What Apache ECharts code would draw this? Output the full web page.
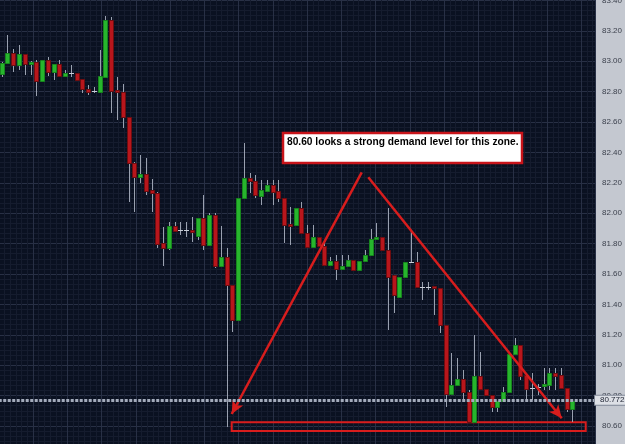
<!DOCTYPE html>
<html>
<head>
<meta charset="utf-8">
<script src="https://cdn.jsdelivr.net/npm/echarts@6/dist/echarts.min.js"></script>
<style>
    html, body { margin: 0; padding: 0; background: #0a1121; }
    #chart { width: 625px; height: 444px; }
</style>
</head>
<body>
<div id="chart"></div>
<script>
// candle values (index 0..99)
var opens = [82.916, 82.988, 83.054, 82.975, 83.047, 82.982, 82.995, 82.870, 83.008, 82.929,
    82.982, 82.903, 82.922, 82.922, 82.883, 82.817, 82.804, 82.797, 82.896, 83.271,
    82.811, 82.797, 82.633, 82.330, 82.238, 82.258, 82.153, 82.133, 81.804, 81.771,
    81.916, 81.889, 81.889, 81.889, 81.850, 81.968, 81.791, 81.988, 81.653, 81.712,
    81.528, 81.297, 82.100, 82.232, 82.212, 82.113, 82.146, 82.186, 82.146, 82.100,
    81.929, 81.922, 82.034, 81.870, 81.778, 81.843, 81.784, 81.659, 81.686, 81.633,
    81.653, 81.692, 81.626, 81.686, 81.725, 81.830, 81.843, 81.758, 81.593, 81.449,
    81.580, 81.679, 81.679, 81.514, 81.514, 81.521, 81.508, 81.264, 80.811, 80.870,
    80.909, 80.824, 80.626, 80.929, 80.843, 80.804, 80.725, 80.764, 80.824, 81.074,
    81.133, 80.936, 80.850, 80.857, 80.863, 80.870, 80.949, 80.936, 80.850, 80.712];
var closes = [82.988, 83.054, 82.975, 83.047, 82.982, 82.995, 82.870, 83.008, 82.929, 82.982,
    82.903, 82.922, 82.922, 82.876, 82.817, 82.797, 82.804, 82.903, 83.271, 82.804,
    82.797, 82.633, 82.330, 82.238, 82.258, 82.146, 82.133, 81.797, 81.771, 81.916,
    81.883, 81.889, 81.889, 81.876, 81.968, 81.791, 81.988, 81.653, 81.712, 81.528,
    81.297, 82.100, 82.232, 82.212, 82.120, 82.153, 82.186, 82.139, 82.100, 81.922,
    81.916, 82.034, 81.870, 81.778, 81.843, 81.784, 81.659, 81.686, 81.633, 81.653,
    81.692, 81.626, 81.686, 81.725, 81.830, 81.843, 81.758, 81.580, 81.462, 81.580,
    81.679, 81.672, 81.514, 81.514, 81.514, 81.508, 81.264, 80.811, 80.870, 80.909,
    80.824, 80.626, 80.929, 80.843, 80.804, 80.725, 80.764, 80.824, 81.074, 81.133,
    80.929, 80.843, 80.850, 80.857, 80.876, 80.949, 80.929, 80.850, 80.712, 80.764];
var lows = [82.896, 82.988, 82.929, 82.942, 82.909, 82.909, 82.771, 82.870, 82.903, 82.876,
    82.896, 82.903, 82.896, 82.876, 82.791, 82.778, 82.791, 82.791, 82.896, 82.659,
    82.613, 82.561, 82.074, 82.008, 82.199, 82.120, 82.008, 81.771, 81.653, 81.758,
    81.883, 81.857, 81.843, 81.811, 81.824, 81.758, 81.791, 81.639, 81.653, 80.593,
    81.218, 81.297, 82.100, 82.133, 82.100, 82.054, 82.146, 82.054, 82.074, 81.804,
    81.791, 81.922, 81.870, 81.778, 81.778, 81.784, 81.659, 81.659, 81.561, 81.633,
    81.653, 81.626, 81.626, 81.686, 81.725, 81.830, 81.758, 81.232, 81.343, 81.449,
    81.580, 81.672, 81.514, 81.429, 81.495, 81.330, 81.212, 80.725, 80.811, 80.870,
    80.758, 80.620, 80.620, 80.843, 80.804, 80.692, 80.692, 80.764, 80.824, 81.074,
    80.903, 80.771, 80.771, 80.804, 80.837, 80.837, 80.837, 80.850, 80.692, 80.626];
var highs = [82.995, 83.172, 83.080, 83.107, 83.047, 83.001, 83.008, 83.008, 83.028, 82.982,
    83.008, 82.942, 82.975, 82.922, 82.883, 82.843, 82.830, 83.074, 83.297, 83.291,
    82.896, 82.850, 82.633, 82.337, 82.383, 82.363, 82.225, 82.139, 81.909, 81.942,
    81.942, 81.942, 81.942, 81.975, 81.968, 82.120, 82.001, 82.001, 81.916, 81.771,
    81.528, 82.100, 82.462, 82.264, 82.251, 82.218, 82.218, 82.218, 82.218, 82.100,
    82.041, 82.034, 82.074, 81.922, 81.922, 81.843, 81.824, 81.712, 81.725, 81.725,
    81.725, 81.692, 81.686, 81.758, 81.896, 81.936, 81.843, 82.034, 81.593, 81.580,
    81.679, 81.876, 81.745, 81.547, 81.547, 81.521, 81.508, 81.264, 81.080, 81.047,
    80.968, 80.836, 81.199, 81.087, 80.843, 80.804, 80.764, 80.857, 81.074, 81.179,
    81.133, 80.936, 80.949, 80.876, 80.982, 80.982, 80.982, 80.982, 80.850, 80.764];

// y axis tick labels and the current price line
var yMin = 80.4, yMax = 83.6, yStep = 0.2;
var lastPrice = 80.772;

// annotations, in chart coordinates (candle index, price)
var leftArrow = [[62.46, 82.269], [39.90, 80.679]];
var rightArrow = [[63.60, 82.236], [97.16, 80.651]];
var demandZone = [[39.90, 80.624], [101.32, 80.567]];
var noteText = '80.60 looks a strong demand level for this zone.';

var data = [];
for (var i = 0; i < opens.length; i++) {
    data.push([i, opens[i], closes[i], lows[i], highs[i]]);
}

function renderCandle(params, api) {
    var x = api.value(0);
    var o = api.value(1), c = api.value(2), l = api.value(3), h = api.value(4);
    var pO = api.coord([x, o]);
    var pC = api.coord([x, c]);
    var pL = api.coord([x, l]);
    var pH = api.coord([x, h]);
    var cx = Math.round(pO[0]);
    var top = Math.round(Math.min(pO[1], pC[1]));
    var bodyH = Math.round(Math.abs(pO[1] - pC[1]));
    var up = c >= o;
    var fill = up ? '#27b52d' : '#b8161c';
    var stroke = up ? '#17861d' : '#6f0d10';
    var body;
    if (bodyH < 2) {
        // doji: thin light cross
        body = {
            type: 'rect',
            shape: {x: cx - 2, y: top, width: 5, height: 1},
            style: {fill: '#c9ced8'}
        };
    } else {
        body = {
            type: 'rect',
            shape: {x: cx - 1.5, y: top + 0.5, width: 4, height: bodyH},
            style: {fill: fill, stroke: stroke, lineWidth: 1}
        };
    }
    return {
        type: 'group',
        children: [{
            type: 'line',
            shape: {x1: cx + 0.5, y1: Math.round(pH[1]), x2: cx + 0.5, y2: Math.round(pL[1])},
            style: {stroke: '#9aa1b0', lineWidth: 1}
        }, body]
    };
}

var myChart = echarts.init(document.getElementById('chart'), null, {renderer: 'canvas'});
var option = {
    backgroundColor: '#0a1121',
    animation: false,
    grid: {
        left: -1.27,
        right: 30,
        top: -30,
        bottom: -12.4,
        containLabel: false,
        outerBoundsMode: 'none'
    },
    xAxis: [{
        // candle positions
        type: 'value',
        min: -0.5153,
        max: 102.93,
        show: false
    }, {
        // only draws the vertical grid
        type: 'value',
        min: 0,
        max: 17.399,
        interval: 1,
        axisLine: {show: false},
        axisTick: {show: false},
        axisLabel: {show: false},
        splitLine: {show: true, lineStyle: {color: '#283045', width: 1}},
        minorTick: {show: false, splitNumber: 6},
        minorSplitLine: {show: true, lineStyle: {color: '#151c2e', width: 1}}
    }],
    yAxis: {
        type: 'value',
        position: 'right',
        min: yMin,
        max: yMax,
        interval: yStep,
        axisLine: {show: false},
        axisTick: {show: false},
        axisLabel: {
            margin: 7,
            fontSize: 8,
            fontFamily: 'Liberation Sans',
            color: '#3a3f4b',
            formatter: function (v) { return v.toFixed(2); }
        },
        splitLine: {show: true, lineStyle: {color: '#283045', width: 1}},
        minorTick: {show: false, splitNumber: 6},
        minorSplitLine: {show: true, lineStyle: {color: '#151c2e', width: 1}}
    },
    graphic: [{
        type: 'rect',
        z: -10,
        shape: {x: 595, y: 0, width: 30, height: 444},
        style: {fill: '#c4c8d0'}
    }, {
        type: 'rect',
        z: 100,
        shape: {x: 283, y: 133, width: 239, height: 30},
        style: {fill: '#ffffff', stroke: '#c8141a', lineWidth: 2.5}
    }, {
        type: 'text',
        z: 101,
        x: 287,
        y: 137,
        style: {
            text: noteText,
            fill: '#000000',
            font: 'bold 10.2px "Liberation Sans", Arial, sans-serif'
        }
    }],
    series: [{
        type: 'custom',
        renderItem: renderCandle,
        xAxisIndex: 0,
        yAxisIndex: 0,
        encode: {
            x: 0,
            y: [1, 2, 3, 4]
        },
        data: data,
        z: 3
    }, {
        type: 'line',
        xAxisIndex: 0,
        yAxisIndex: 0,
        data: [],
        z: 5,
        markLine: {
            silent: true,
            animation: false,
            symbol: ['none', 'none'],
            data: [
                [{coord: leftArrow[0], symbol: 'none'}, {coord: leftArrow[1], symbol: 'arrow'}],
                [{coord: rightArrow[0], symbol: 'none'}, {coord: rightArrow[1], symbol: 'arrow'}],
                {
                    yAxis: lastPrice,
                    lineStyle: {color: '#a3abbb', width: 3, type: [3, 1.5]},
                    label: {
                        show: true,
                        position: 'end',
                        distance: 0,
                        formatter: lastPrice.toFixed(3),
                        fontSize: 8,
                        fontFamily: 'Liberation Sans',
                        color: '#1c2130',
                        backgroundColor: '#dde0e6',
                        borderColor: '#7f8796',
                        borderWidth: 1,
                        padding: [1, 4, 0, 5]
                    }
                }
            ],
            symbolSize: [9, 13],
            label: {show: false},
            lineStyle: {color: '#d81d1d', width: 2.5, type: 'solid'}
        },
        markArea: {
            silent: true,
            itemStyle: {color: 'rgba(0,0,0,0)', borderColor: '#d81d1d', borderWidth: 2},
            data: [[{coord: demandZone[0]}, {coord: demandZone[1]}]]
        }
    }]
};
if (option && typeof option === "object") {
    myChart.setOption(option, true);
}
</script>
</body>
</html>
